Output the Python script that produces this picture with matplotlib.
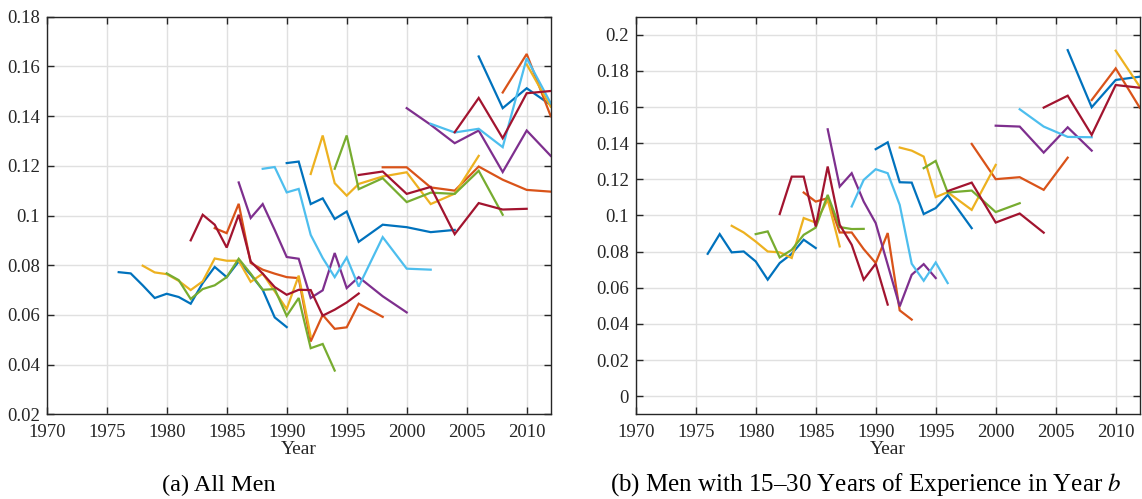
import matplotlib
matplotlib.use('Agg')
import matplotlib.pyplot as plt

plt.rcParams['font.family'] = ['Liberation Serif', 'DejaVu Serif']
plt.rcParams['mathtext.fontset'] = 'stix'

# cores padrao do matlab
cores = {
    'blue': '#0072BD',
    'orange': '#D95319',
    'yellow': '#EDB120',
    'purple': '#7E2F8E',
    'green': '#77AC30',
    'lightblue': '#4DBEEE',
    'red': '#A2142F',
}

# (a) All Men
a_blue = [
    (list(range(1976, 1991)), [0.0772, 0.0767, 0.0719, 0.0668, 0.0685, 0.0672, 0.0645, 0.0728,
                               0.0793, 0.0752, 0.0815, 0.0762, 0.0701, 0.0590, 0.0551]),
    (list(range(1990, 1997)) + [1998, 2000, 2002, 2004],
     [0.1211, 0.1217, 0.1046, 0.1069, 0.0986, 0.1016, 0.0894, 0.0963, 0.0953, 0.0933, 0.0942]),
    ([2006, 2008, 2010, 2012], [0.1640, 0.1432, 0.1512, 0.1445]),
]
a_orange = [
    (list(range(1984, 1997)) + [1998], [0.0949, 0.0929, 0.1047, 0.0809, 0.0782, 0.0766, 0.0752,
                                        0.0748, 0.0493, 0.0600, 0.0544, 0.0550, 0.0645, 0.0592]),
    ([1998, 2000, 2002, 2004, 2006, 2008, 2010, 2012],
     [0.1194, 0.1194, 0.1113, 0.1100, 0.1197, 0.1144, 0.1103, 0.1096]),
    ([2008, 2010, 2012], [0.1495, 0.1650, 0.1400]),
]
a_yellow = [
    (list(range(1978, 1993)), [0.0798, 0.0771, 0.0764, 0.0737, 0.0700, 0.0735, 0.0827, 0.0818,
                               0.0818, 0.0733, 0.0766, 0.0695, 0.0624, 0.0758, 0.0514]),
    (list(range(1992, 1997)) + [1998, 2000, 2002, 2004, 2006],
     [0.1167, 0.1322, 0.1130, 0.1080, 0.1127, 0.1157, 0.1174, 0.1046, 0.1088, 0.1240]),
    ([2010, 2012], [0.1608, 0.1438]),
]
a_purple = [
    (list(range(1986, 1997)) + [1998, 2000], [0.1133, 0.0990, 0.1046, 0.0942, 0.0833, 0.0826, 0.0668,
                                              0.0699, 0.0849, 0.0708, 0.0752, 0.0675, 0.0610]),
    ([2000, 2002, 2004, 2006, 2008, 2010, 2012],
     [0.1432, 0.1365, 0.1291, 0.1342, 0.1175, 0.1342, 0.1240]),
]
a_green = [
    (list(range(1980, 1995)), [0.0767, 0.0740, 0.0664, 0.0704, 0.0719, 0.0752, 0.0826, 0.0766,
                               0.0701, 0.0704, 0.0596, 0.0668, 0.0466, 0.0483, 0.0376]),
    ([1994, 1995, 1996, 1998, 2000, 2002, 2004, 2006, 2008],
     [0.1188, 0.1322, 0.1106, 0.1150, 0.1054, 0.1092, 0.1087, 0.1180, 0.1003]),
]
a_lightblue = [
    (list(range(1988, 1997)) + [1998, 2000, 2002], [0.1188, 0.1195, 0.1093, 0.1107, 0.0922, 0.0829,
                                                    0.0752, 0.0831, 0.0714, 0.0913, 0.0786, 0.0782]),
    ([2002, 2004, 2006, 2008, 2010, 2012], [0.1369, 0.1334, 0.1349, 0.1275, 0.1633, 0.1452]),
]
a_red = [
    (list(range(1982, 1997)), [0.0900, 0.1003, 0.0963, 0.0871, 0.1003, 0.0815, 0.0766, 0.0712,
                               0.0681, 0.0701, 0.0700, 0.0597, 0.0621, 0.0650, 0.0686]),
    ([1996, 1998, 2000, 2002, 2004, 2006, 2008, 2010],
     [0.1163, 0.1177, 0.1087, 0.1115, 0.0925, 0.1050, 0.1024, 0.1027]),
    ([2004, 2006, 2008, 2010, 2012], [0.1335, 0.1473, 0.1311, 0.1492, 0.1501]),
]

# (b) Men with 15-30 Years of Experience
b_blue = [
    (list(range(1976, 1986)), [0.0788, 0.0897, 0.0796, 0.0801, 0.0746, 0.0645, 0.0737, 0.0788,
                               0.0866, 0.0820]),
    (list(range(1990, 1997)) + [1998], [0.1367, 0.1405, 0.1184, 0.1182, 0.1008, 0.1041, 0.1114, 0.0930]),
    ([2006, 2008, 2010, 2012], [0.1915, 0.1599, 0.1750, 0.1768]),
]
b_orange = [
    (list(range(1984, 1994)), [0.1127, 0.1077, 0.1096, 0.0906, 0.0906, 0.0814, 0.0737, 0.0903,
                               0.0475, 0.0424]),
    ([1998, 2000, 2002, 2004, 2006], [0.1396, 0.1201, 0.1212, 0.1142, 0.1320]),
    ([2008, 2010, 2012], [0.1639, 0.1814, 0.1597]),
]
b_yellow = [
    (list(range(1978, 1988)), [0.0943, 0.0906, 0.0856, 0.0801, 0.0796, 0.0765, 0.0986, 0.0961,
                               0.1087, 0.0829]),
    ([1992, 1993, 1994, 1995, 1996, 1998, 2000], [0.1376, 0.1359, 0.1326, 0.1102, 0.1129, 0.1031, 0.1280]),
    ([2010, 2012], [0.1912, 0.1713]),
]
b_purple = [
    (list(range(1986, 1996)), [0.1477, 0.1160, 0.1234, 0.1077, 0.0958, 0.0728, 0.0497, 0.0672,
                               0.0731, 0.0654]),
    ([2000, 2002, 2004, 2006, 2008], [0.1497, 0.1492, 0.1348, 0.1488, 0.1359]),
]
b_green = [
    (list(range(1980, 1990)), [0.0897, 0.0912, 0.0768, 0.0810, 0.0893, 0.0933, 0.1114, 0.0936,
                               0.0925, 0.0926]),
    ([1994, 1995, 1996, 1998, 2000, 2002], [0.1262, 0.1302, 0.1127, 0.1138, 0.1019, 0.1068]),
]
b_lightblue = [
    (list(range(1988, 1997)), [0.1050, 0.1197, 0.1256, 0.1234, 0.1059, 0.0733, 0.0639, 0.0740, 0.0626]),
    ([2002, 2004, 2006, 2008], [0.1588, 0.1492, 0.1435, 0.1433]),
]
b_red = [
    (list(range(1982, 1992)), [0.1008, 0.1215, 0.1215, 0.0939, 0.1271, 0.0949, 0.0838, 0.0645,
                               0.0733, 0.0507]),
    ([1996, 1998, 2000, 2002, 2004], [0.1135, 0.1182, 0.0961, 0.1011, 0.0905]),
    ([2004, 2006, 2008, 2010, 2012], [0.1597, 0.1663, 0.1446, 0.1722, 0.1707]),
]

xticks = [1970, 1975, 1980, 1985, 1990, 1995, 2000, 2005, 2010]
a_yticks = [0.02, 0.04, 0.06, 0.08, 0.1, 0.12, 0.14, 0.16, 0.18]
b_yticks = [0, 0.02, 0.04, 0.06, 0.08, 0.1, 0.12, 0.14, 0.16, 0.18, 0.2]


def rotulo(v):
    return ('%.2f' % v).rstrip('0').rstrip('.')


def desenhar(ax, series, yticks, ylim):
    for nome, segs in series:
        for anos, vals in segs:
            ax.plot(anos, vals, color=cores[nome], lw=1.6, solid_joinstyle='miter')
    ax.set_xlim(1970, 2012)
    ax.set_ylim(*ylim)
    ax.set_xticks(xticks)
    ax.set_yticks(yticks)
    ax.set_yticklabels([rotulo(v) for v in yticks])
    ax.grid(True, color='#e0e0e0', lw=1.0)
    ax.set_axisbelow(True)
    ax.tick_params(direction='in', top=True, right=True, length=5, width=1,
                   labelsize=13.5, colors='#262626')
    ax.tick_params(axis='x', pad=7)
    ax.tick_params(axis='y', pad=5)
    for s in ax.spines.values():
        s.set_color('#262626')
        s.set_linewidth(1.0)
    ax.set_xlabel('Year', fontsize=14, color='#262626', labelpad=0)


fig = plt.figure(figsize=(11.42, 4.99), dpi=100)
ax1 = fig.add_axes([46.7 / 1142, 1 - 414.3 / 499, 504 / 1142, 397.6 / 499])
ax2 = fig.add_axes([635.7 / 1142, 1 - 414.3 / 499, 504 / 1142, 397.6 / 499])

ordem = ['blue', 'orange', 'yellow', 'purple', 'green', 'lightblue', 'red']
serie_a = list(zip(ordem, [a_blue, a_orange, a_yellow, a_purple, a_green, a_lightblue, a_red]))
serie_b = list(zip(ordem, [b_blue, b_orange, b_yellow, b_purple, b_green, b_lightblue, b_red]))

desenhar(ax1, serie_a, a_yticks, (0.02, 0.18))
desenhar(ax2, serie_b, b_yticks, (-0.01, 0.21))

fig.text(219 / 1142, 1 - 485 / 499, '(a) All Men', ha='center', va='center', fontsize=17.5)
fig.text(866 / 1142, 1 - 485 / 499, '(b) Men with 15\u201330 Years of Experience in Year $b$',
         ha='center', va='center', fontsize=18)

fig.savefig('out.png', dpi=100)
